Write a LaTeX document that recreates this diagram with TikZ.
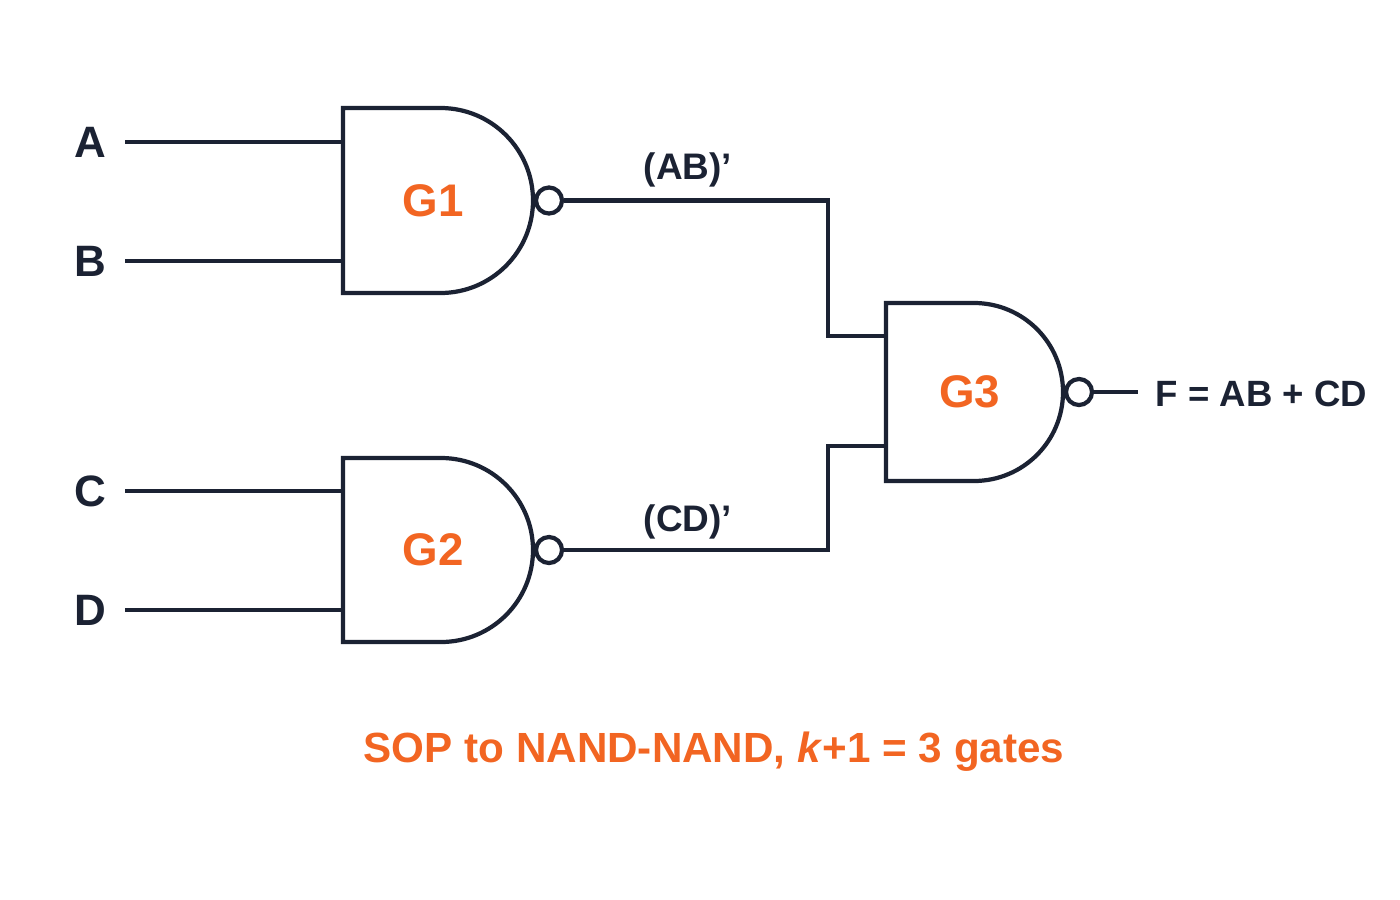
\documentclass[tikz,border=0pt]{standalone}
\usepackage{fontspec}
\setmainfont{Liberation Sans}
\usetikzlibrary{calc}
\definecolor{ink}{HTML}{1B2233}
\definecolor{accent}{HTML}{F26522}

% NAND gate: name, left x, top y, bottom y, right x
\newcommand{\nandgate}[5]{%
  \pgfmathsetmacro{\gr}{(#4-#3)/2}
  \pgfmathsetmacro{\gf}{#5-\gr}
  \draw[gate] (#2,#3) -- (\gf,#3) arc[start angle=-90,end angle=90,x radius=\gr,y radius=\gr] -- (#2,#4) -- cycle;
  \node[bubble] (#1o) at (#5+16,{(#3+#4)/2}) {};
  \node[glabel] (#1) at ({(#2+#5)/2-5},{(#3+#4)/2}) {#1};
}

\begin{document}
\begin{tikzpicture}[x=0.01cm,y=-0.01cm]
    \tikzstyle{gate}=[draw=ink,line width=1.2pt,fill=white]
    \tikzstyle{wire}=[draw=ink,line width=1.2pt]
    \tikzstyle{bubble}=[draw=ink,line width=1.2pt,circle,fill=white,minimum size=0.26cm,inner sep=0pt]
    \tikzstyle{glabel}=[text=accent,font=\fontsize{13}{16}\selectfont\bfseries]
    \tikzstyle{sig}=[text=ink,font=\fontsize{12.5}{15}\selectfont\bfseries]
    \useasboundingbox (0,0) rectangle (1400,900);
    % gates
    \nandgate{G1}{343}{108}{293}{533}
    \nandgate{G2}{343}{458}{642}{533}
    \nandgate{G3}{886}{303}{481}{1063}
    % inputs
    \node[sig] (a) at (90,142) {A};
    \node[sig] (b) at (90,261) {B};
    \node[sig] (c) at (90,491) {C};
    \node[sig] (d) at (90,610) {D};
    \coordinate (a1) at (343,142);
    \coordinate (b1) at (343,261);
    \coordinate (c1) at (343,491);
    \coordinate (d1) at (343,610);
    \draw[wire] (125,142) -- (a1);
    \draw[wire] (125,261) -- (b1);
    \draw[wire] (125,491) -- (c1);
    \draw[wire] (125,610) -- (d1);
    % middle wires
    \coordinate (g3a) at (886,336);
    \coordinate (g3b) at (886,446);
    \draw[wire] (G1o.east) -| (828,336) -- (g3a);
    \draw[wire] (G2o.east) -| (828,446) -- (g3b);
    \node[sig,font=\fontsize{10.5}{13}\selectfont\bfseries] (ab) at (688,170) {(AB)'};
    \node[sig,font=\fontsize{10.5}{13}\selectfont\bfseries] (cd) at (688,522) {(CD)'};
    % output
    \node[sig,anchor=west,inner sep=0pt,font=\fontsize{10.4}{13}\selectfont\bfseries] (f) at (1155,394) {F = AB + CD};
    \draw[wire] (G3o.east) -- (G3o.east -| 1138,0);
    \node[text=accent,font=\fontsize{12}{15}\selectfont\bfseries] (cap) at (714,752) {SOP to NAND-NAND, \textit{k}+1 = 3 gates};
\end{tikzpicture}
\end{document}
